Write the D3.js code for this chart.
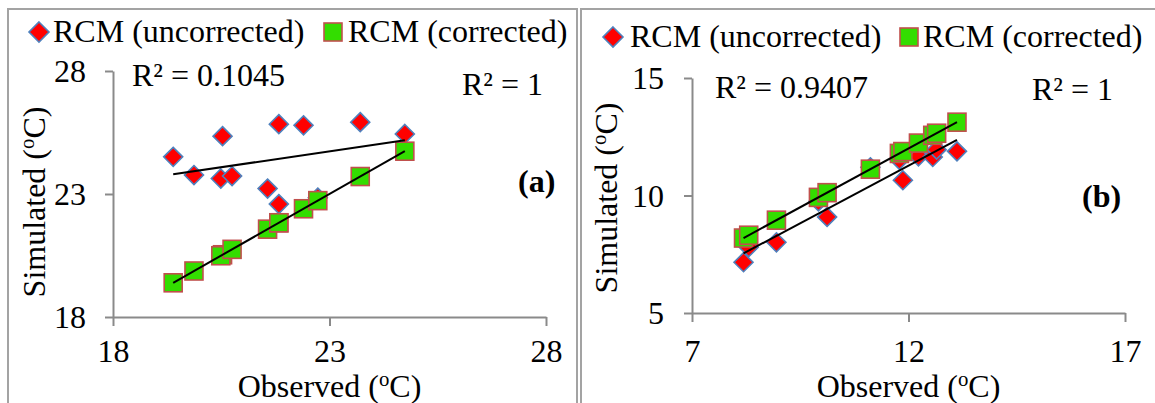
<!DOCTYPE html>
<html>
<head>
<meta charset="utf-8">
<script src="https://cdn.jsdelivr.net/npm/d3@7"></script>
<style>
  html, body { margin: 0; padding: 0; background: #fff; }
  svg { display: block; }
  svg text { font-family: 'Liberation Serif', 'Times New Roman', serif; }
</style>
</head>
<body>
<svg id="chart" width="1155" height="403"></svg>
<script>
// ---- Panel (a): observed vs simulated (°C) ----
const observedA    = [19.39, 19.87, 20.53, 20.49, 20.75, 21.57, 21.83, 21.83, 22.40, 22.73, 23.71, 24.74];
const uncorrectedA = [24.51, 23.77, 25.35, 23.63, 23.73, 23.22, 25.84, 22.59, 25.79, 22.85, 25.92, 25.44];
const correctedA   = [19.39, 19.87, 20.53, 20.49, 20.75, 21.57, 21.83, 21.83, 22.40, 22.73, 23.71, 24.74];
const xTicksA = [18, 23, 28];
const yTicksA = [18, 23, 28];
const r2TextA = ["R² = 0.1045", "R² = 1"];

// ---- Panel (b): observed vs simulated (°C) ----
const observedB    = [8.19, 8.31, 8.95, 9.92, 10.12, 11.12, 11.79, 11.87, 12.23, 12.56, 12.65, 13.12];
const uncorrectedB = [7.16, 7.80, 8.01, 9.75, 9.09, 11.20, 11.52, 10.65, 11.67, 11.64, 11.95, 11.88];
const correctedB   = [8.19, 8.31, 8.95, 9.92, 10.12, 11.12, 11.79, 11.87, 12.23, 12.56, 12.65, 13.12];
const xTicksB = [7, 12, 17];
const yTicksB = [5, 10, 15];
const r2TextB = ["R² = 0.9407", "R² = 1"];

const seriesNames = ["RCM (uncorrected)", "RCM (corrected)"];

// ---- styling ----
const FONT = 32;
const SERIF = "'Liberation Serif', 'Times New Roman', serif";
const AXIS_COLOR = "#8a8a8a";
const FRAME_COLOR = "#a3a3a3";
const DIAMOND_FILL = "#ff0000", DIAMOND_STROKE = "#4f81bd";
const SQUARE_FILL = "#33dd00", SQUARE_STROKE = "#c0504d";

const panels = [
  {
    obs: observedA, unc: uncorrectedA, cor: correctedA,
    xDomain: [18, 28], yDomain: [18, 28], xTicks: xTicksA, yTicks: yTicksA,
    xRange: [113, 546], yRange: [317, 71],
    frame: { x: 8, y: 9, w: 569 },
    legend: { cy: 32, base: 42, d: 39, t1: 53, s: 333, t2: 348 },
    r2: [{ text: r2TextA[0], x: 132, y: 86 }, { text: r2TextA[1], x: 462, y: 95 }],
    tag: { text: "(a)", x: 518, y: 192 },
    yTitle: { x: 45, y: 202 }, yPad: 19
  },
  {
    obs: observedB, unc: uncorrectedB, cor: correctedB,
    xDomain: [7, 17], yDomain: [5, 15], xTicks: xTicksB, yTicks: yTicksB,
    xRange: [692, 1125], yRange: [313, 78],
    frame: { x: 581, y: 9, w: 600 },
    legend: { cy: 37, base: 47, d: 613, t1: 630, s: 909, t2: 923 },
    r2: [{ text: r2TextB[0], x: 715, y: 98 }, { text: r2TextB[1], x: 1032, y: 100 }],
    tag: { text: "(b)", x: 1082, y: 207 },
    yTitle: { x: 617, y: 198 }, yPad: 20
  }
];

const svg = d3.select("#chart");

function diamondPath(cx, cy, r) {
  return `M${cx},${cy - r}L${cx + r},${cy}L${cx},${cy + r}L${cx - r},${cy}Z`;
}

function linearFit(xs, ys) {
  const mx = d3.mean(xs), my = d3.mean(ys);
  let sxy = 0, sxx = 0;
  xs.forEach((x, i) => { sxy += (x - mx) * (ys[i] - my); sxx += (x - mx) * (x - mx); });
  const slope = sxy / sxx;
  return { slope, intercept: my - slope * mx };
}

function addText(parent, x, y, str) {
  return parent.append("text").attr("x", x).attr("y", y)
    .attr("font-family", SERIF).attr("font-size", FONT).attr("fill", "#000").text(str);
}

function tempTitle(sel, word) {
  sel.append("tspan").text(word + " (");
  sel.append("tspan").attr("font-size", FONT * 0.65).attr("baseline-shift", "super").text("o");
  sel.append("tspan").text("C)");
}

panels.forEach(p => {
  const g = svg.append("g");

  // chart frame
  g.append("rect")
    .attr("x", p.frame.x).attr("y", p.frame.y)
    .attr("width", p.frame.w).attr("height", 440)
    .attr("fill", "none").attr("stroke", FRAME_COLOR).attr("stroke-width", 2);

  const x = d3.scaleLinear().domain(p.xDomain).range(p.xRange);
  const y = d3.scaleLinear().domain(p.yDomain).range(p.yRange);

  // axes
  const yAxis = g.append("g")
    .attr("transform", `translate(${p.xRange[0]},0)`)
    .call(d3.axisLeft(y).tickValues(p.yTicks).tickSize(8).tickSizeOuter(0).tickPadding(p.yPad).tickFormat(d3.format("d")));
  const xAxis = g.append("g")
    .attr("transform", `translate(0,${p.yRange[0]})`)
    .call(d3.axisBottom(x).tickValues(p.xTicks).tickSize(9).tickSizeOuter(0).tickFormat(d3.format("d")));

  [yAxis, xAxis].forEach(ax => {
    ax.attr("font-family", SERIF).attr("font-size", FONT);
    ax.select(".domain").attr("stroke", AXIS_COLOR).attr("stroke-width", 2);
    ax.selectAll(".tick line").attr("stroke", AXIS_COLOR).attr("stroke-width", 2);
    ax.selectAll(".tick text").attr("fill", "#000");
  });
  yAxis.selectAll(".tick text").attr("dy", "0.34em");
  xAxis.selectAll(".tick text").attr("dy", null).attr("y", 362 - p.yRange[0]);

  // axis titles
  tempTitle(g.append("text")
    .attr("x", (p.xRange[0] + p.xRange[1]) / 2).attr("y", 397)
    .attr("text-anchor", "middle").attr("font-family", SERIF).attr("font-size", FONT), "Observed");
  tempTitle(g.append("text")
    .attr("transform", `translate(${p.yTitle.x},${p.yTitle.y}) rotate(-90)`)
    .attr("text-anchor", "middle").attr("font-family", SERIF).attr("font-size", FONT), "Simulated");

  const pts = p.obs.map((o, i) => ({ o, u: p.unc[i], c: p.cor[i] }));

  // uncorrected series (diamonds)
  g.append("g").selectAll("path").data(pts).join("path")
    .attr("d", d => diamondPath(x(d.o), y(d.u), 9.5))
    .attr("fill", DIAMOND_FILL).attr("stroke", DIAMOND_STROKE).attr("stroke-width", 1.6);

  // corrected series (squares)
  g.append("g").selectAll("rect").data(pts).join("rect")
    .attr("x", d => x(d.o) - 9).attr("y", d => y(d.c) - 9)
    .attr("width", 18).attr("height", 18)
    .attr("fill", SQUARE_FILL).attr("stroke", SQUARE_STROKE).attr("stroke-width", 1.6);

  // linear trend lines
  const [x0, x1] = d3.extent(p.obs);
  [p.unc, p.cor].forEach(vals => {
    const f = linearFit(p.obs, vals);
    g.append("line")
      .attr("x1", x(x0)).attr("y1", y(f.intercept + f.slope * x0))
      .attr("x2", x(x1)).attr("y2", y(f.intercept + f.slope * x1))
      .attr("stroke", "#000").attr("stroke-width", 2);
  });

  // R² annotations and panel tag
  p.r2.forEach(r => addText(g, r.x, r.y, r.text));
  addText(g, p.tag.x, p.tag.y, p.tag.text).attr("font-weight", "bold");

  // legend
  const L = p.legend;
  g.append("path").attr("d", diamondPath(L.d, L.cy, 10))
    .attr("fill", DIAMOND_FILL).attr("stroke", DIAMOND_STROKE).attr("stroke-width", 1.6);
  addText(g, L.t1, L.base, seriesNames[0]);
  g.append("rect").attr("x", L.s - 9).attr("y", L.cy - 9).attr("width", 18).attr("height", 18)
    .attr("fill", SQUARE_FILL).attr("stroke", SQUARE_STROKE).attr("stroke-width", 1.6);
  addText(g, L.t2, L.base, seriesNames[1]);
});
</script>
</body>
</html>
